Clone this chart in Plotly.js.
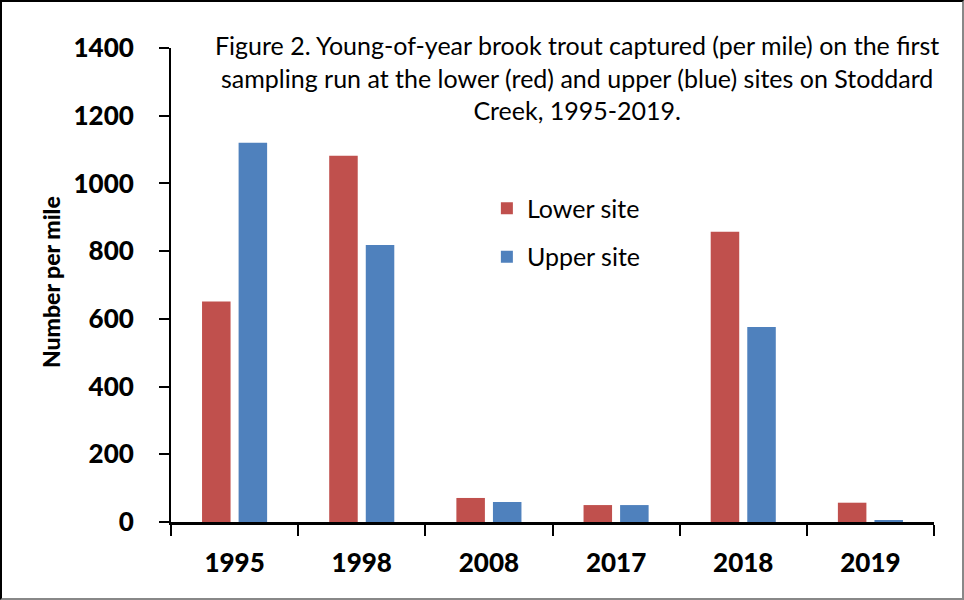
<!DOCTYPE html>
<html>
<head>
<meta charset="utf-8">
<script src="https://cdn.plot.ly/plotly-3.0.1.min.js"></script>
<style>
  html, body { margin: 0; padding: 0; background: #fff; }
  #frame { position: absolute; left: 0; top: 0; width: 964px; height: 600px; box-sizing: border-box;
           border-top: 2px solid #000; border-left: 2px solid #000; border-right: 2px solid #888; border-bottom: 2px solid #888; }
  #chart { position: absolute; left: 0; top: 0; width: 964px; height: 600px; }
</style>
</head>
<body>
<div id="chart"></div>
<div id="frame"></div>
<script>
const years = ["1995", "1998", "2008", "2017", "2018", "2019"];
const lowerSite = [651, 1082, 71, 50, 857, 57];
const upperSite = [1120, 818, 59, 50, 576, 6];
const yTicks = [0, 200, 400, 600, 800, 1000, 1200, 1400];
const titleLines = [
  "Figure 2. Young-of-year brook trout captured (per mile) on the first",
  "sampling run at the lower (red) and upper (blue) sites on Stoddard",
  "Creek, 1995-2019."
];

const tickFont = { family: "Lato, 'Liberation Sans', sans-serif", size: 26, color: "#000", weight: 900 };

const traces = [
  { type: "bar", name: "Lower site", x: years, y: lowerSite, marker: { color: "#C0504D" }, legendgroup: "a" },
  { type: "bar", name: "Upper site", x: years, y: upperSite, marker: { color: "#4F81BD" }, legendgroup: "b" }
];

const layout = {
  width: 964, height: 600,
  margin: { l: 171, r: 30, t: 48, b: 78 },
  paper_bgcolor: "#fff", plot_bgcolor: "#fff",
  barmode: "group", bargap: 0.425, bargroupgap: 0.22,
  showlegend: true,
  legend: {
    x: 0.414, y: 0.71, xanchor: "left", yanchor: "top",
    font: { family: "Lato, 'Liberation Sans', sans-serif", size: 25, color: "#000" },
    traceorder: "grouped", tracegroupgap: 13, bgcolor: "rgba(0,0,0,0)"
  },
  xaxis: {
    type: "category",
    showline: true, linecolor: "#000", linewidth: 3,
    ticks: "outside", tickson: "boundaries", ticklen: 11, tickwidth: 2, tickcolor: "#000",
    tickfont: tickFont, ticklabelstandoff: 16,
    showgrid: false, zeroline: false, fixedrange: true
  },
  yaxis: {
    range: [0, 1400], tickvals: yTicks, ticktext: yTicks.map(String),
    showline: true, linecolor: "#000", linewidth: 2,
    ticks: "outside", ticklen: 10, tickwidth: 2, tickcolor: "#000",
    tickfont: tickFont, ticklabelstandoff: 20,
    showgrid: false, zeroline: false, fixedrange: true
  },
  annotations: [
    {
      xref: "paper", yref: "paper", x: (577 - 171) / 763, y: 1 + (48 - 28) / 474,
      xanchor: "center", yanchor: "top", align: "center", showarrow: false,
      text: titleLines.join("<br>"),
      font: { family: "Lato, 'Liberation Sans', sans-serif", size: 25, color: "#000" }
    },
    {
      xref: "paper", yref: "paper", x: (51 - 171) / 763, y: (522 - 282) / 474,
      xanchor: "center", yanchor: "middle", textangle: -90, showarrow: false,
      text: "Number per mile",
      font: { family: "Lato, 'Liberation Sans', sans-serif", size: 23, color: "#000", weight: 900 }
    }
  ]
};

Plotly.newPlot("chart", traces, layout, { displayModeBar: false, staticPlot: true });
</script>
</body>
</html>
